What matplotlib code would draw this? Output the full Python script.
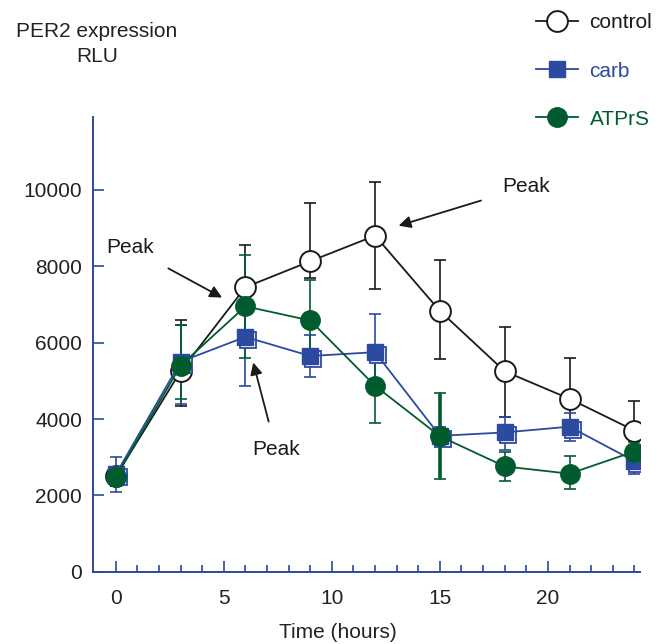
import matplotlib.pyplot as plt
import matplotlib.transforms as mtransforms
from matplotlib.ticker import MultipleLocator

plt.rcParams['font.family'] = ['Liberation Sans', 'DejaVu Sans']
plt.rcParams['font.size'] = 15

# Time points (hours)
hours = [0, 3, 6, 9, 12, 15, 18, 21, 24]

# control: mean and error bar ends
control = [2500, 5250, 7450, 8130, 8800, 6830, 5250, 4530, 3700]
control_top = [2750, 6600, 8560, 9660, 10200, 8150, 6420, 5600, 4460]
control_bot = [2250, 4330, 6340, 7700, 7400, 5560, 4050, 3950, 2940]

# carb
carb = [2550, 5500, 6150, 5650, 5750, 3560, 3650, 3800, 2900]
carb_top = [3000, 6450, 7550, 6200, 6760, 3800, 4050, 4150, 3300]
carb_bot = [2100, 4400, 4860, 5100, 4750, 3300, 3200, 3420, 2550]

# ATPrS
atprs = [2480, 5400, 6950, 6580, 4870, 3550, 2760, 2570, 3150]
atprs_top = [2700, 6450, 8300, 7650, 5850, 4670, 3150, 3030, 3400]
atprs_bot = [2260, 4520, 5600, 5600, 3890, 2430, 2380, 2160, 2900]

black = '#1a1a1a'
blue = '#2b4aa0'
green = '#005c2e'

fig = plt.figure(figsize=(6.65, 6.44), dpi=100)
ax = fig.add_axes([0.140, 0.112, 0.822, 0.706])


def err(mean, top, bot):
    return [[m - b for m, b in zip(mean, bot)], [t - m for m, t in zip(mean, top)]]


ax.errorbar(hours, control, yerr=err(control, control_top, control_bot), fmt='none',
            ecolor=black, elinewidth=1.2, capsize=4, capthick=1.2, zorder=2)
ax.errorbar(hours, carb, yerr=err(carb, carb_top, carb_bot), fmt='none',
            ecolor=blue, elinewidth=1.2, capsize=4, capthick=1.2, zorder=2)
eb = ax.errorbar(hours, atprs, yerr=err(atprs, atprs_top, atprs_bot), fmt='none',
                 ecolor=green, elinewidth=1.2, capsize=4, capthick=1.2, zorder=2)
eb[2][0].set_linewidths([1.2, 1.2, 1.2, 1.2, 1.2, 2.6, 1.2, 1.2, 1.2])

l_ctrl, = ax.plot(hours, control, '-o', color=black, lw=1.3, ms=15,
                  mfc='white', mec=black, mew=1.4, label='control', zorder=3)

# offset outline behind the filled square
shift = ax.transData + mtransforms.ScaledTranslation(3 / 100, -3 / 100, fig.dpi_scale_trans)
ax.plot(hours, carb, 's', ms=12, mfc='white', mec=blue, mew=1.3, transform=shift, zorder=4)
l_carb, = ax.plot(hours, carb, '-s', color=blue, lw=1.3, ms=12,
                  mfc=blue, mec=blue, label='carb', zorder=4)

l_atp, = ax.plot(hours, atprs, '-o', color=green, lw=1.3, ms=14,
                 mfc=green, mec=green, label='ATPrS', zorder=5)

# Peak annotations
arrow = dict(arrowstyle='-|>', color=black, lw=1.3, mutation_scale=18)
ax.annotate('Peak', xy=(4.92, 7180), xytext=(0.65, 8490), ha='center', va='center',
            color=black, arrowprops=dict(arrow, shrinkA=13, shrinkB=0))
ax.annotate('Peak', xy=(13.09, 9060), xytext=(19.0, 10080), ha='center', va='center',
            color=black, arrowprops=dict(arrow, shrinkA=14, shrinkB=0))
ax.annotate('Peak', xy=(6.36, 5480), xytext=(7.42, 3190), ha='center', va='center',
            color=black, arrowprops=dict(arrow, shrinkA=12, shrinkB=0))

ax.set_xlim(-1.05, 24.25)
ax.set_ylim(0, 11900)
ax.xaxis.set_major_locator(MultipleLocator(5))
ax.set_xticks(range(0, 25), minor=True)
ax.set_yticks([0, 2000, 4000, 6000, 8000, 10000])
ax.tick_params(which='both', direction='in', color=blue, labelcolor='#222222', width=1.2)
ax.tick_params(which='major', length=8)
ax.tick_params(which='minor', length=5)
ax.tick_params(axis='x', pad=12)
ax.tick_params(axis='y', pad=8)

for s in ['top', 'right']:
    ax.spines[s].set_visible(False)
for s in ['left', 'bottom']:
    ax.spines[s].set_color(blue)
    ax.spines[s].set_linewidth(1.4)

ax.set_xlabel('Time (hours)', color='#222222')
ax.xaxis.set_label_coords(0.448, -0.112)

fig.text(97 / 665, 1 - 44 / 644, 'PER2 expression\nRLU', ha='center', va='center',
         multialignment='center', color='#222222', linespacing=1.4)

ax.legend(handles=[l_ctrl, l_carb, l_atp], loc='upper left',
          bbox_to_anchor=(526 / 665, 1 - 3 / 644), bbox_transform=fig.transFigure,
          frameon=False, borderpad=0, handlelength=2.0, handletextpad=0.55,
          labelspacing=1.4, labelcolor='linecolor')

fig.savefig('out.png', dpi=100)
